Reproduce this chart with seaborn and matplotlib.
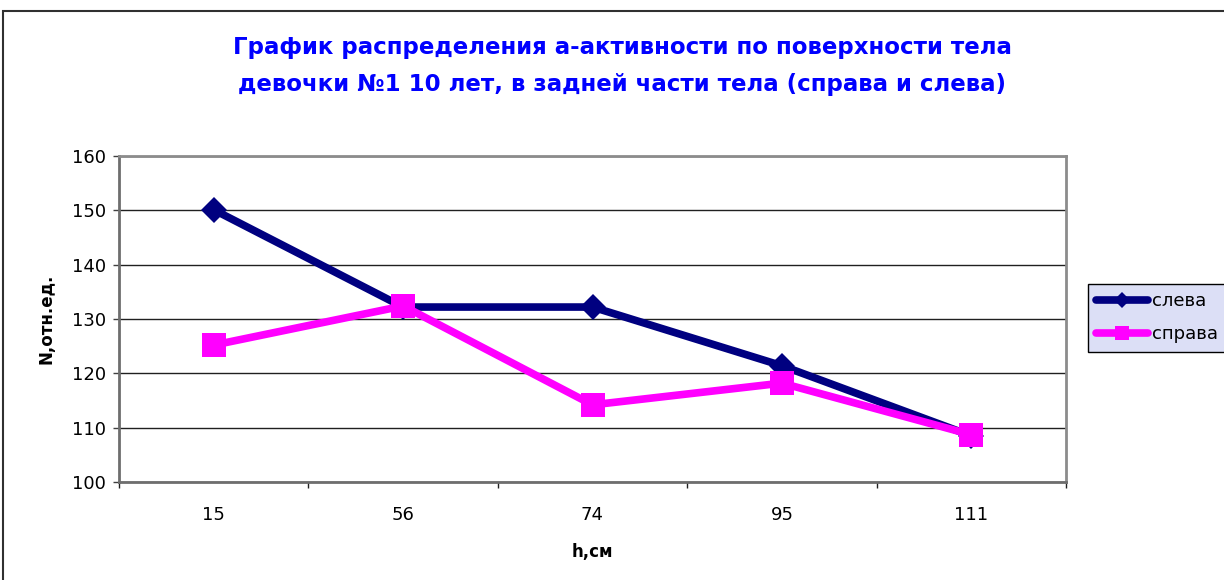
import matplotlib
matplotlib.use("Agg")
import matplotlib.pyplot as plt
import seaborn as sns
import pandas as pd
import numpy as np
from matplotlib.patches import Rectangle

# данные
h_labels = ["15", "56", "74", "95", "111"]
sleva = [150.1, 132.2, 132.2, 121.4, 108.5]
sprava = [125.2, 132.4, 114.2, 118.2, 108.7]
series_names = ["слева", "справа"]
y_ticks = [100, 110, 120, 130, 140, 150, 160]

df = pd.DataFrame({
    "h": h_labels * 2,
    "N": sleva + sprava,
    "side": [series_names[0]] * len(h_labels) + [series_names[1]] * len(h_labels),
})

sns.set_style("white")
plt.rcParams["font.family"] = ["DejaVu Sans"]
plt.rcParams["text.color"] = "black"
plt.rcParams["axes.labelcolor"] = "black"
plt.rcParams["xtick.labelcolor"] = "black"
plt.rcParams["ytick.labelcolor"] = "black"

fig = plt.figure(figsize=(12.24, 5.8), dpi=100)
ax = fig.add_axes([119 / 1224, 98 / 580, 947 / 1224, 326 / 580])

palette = {"слева": "#000080", "справа": "#FF00FF"}
markers = {"слева": "D", "справа": "s"}
sns.lineplot(data=df, x="h", y="N", hue="side", style="side",
             palette=palette, markers=markers, dashes=False, sort=False,
             linewidth=5.5, markersize=17.5, markeredgewidth=0, ax=ax)

# ромб немного меньше квадрата
for line in ax.get_lines():
    if line.get_marker() == "D":
        line.set_markersize(13.5)

ax.set_xlim(-0.5, len(h_labels) - 0.5)
ax.set_ylim(100, 160)
ax.set_yticks(y_ticks)
ax.set_xticks(range(len(h_labels)))
ax.set_xticklabels(h_labels)
ax.set_xticks(np.arange(-0.5, len(h_labels)), minor=True)

ax.grid(axis="y", color="#202020", linewidth=1.0)
ax.set_axisbelow(True)
for side in ["top", "right"]:
    ax.spines[side].set_color("#8c8c8c")
    ax.spines[side].set_linewidth(2.0)
for side in ["left", "bottom"]:
    ax.spines[side].set_color("#6e6e6e")
    ax.spines[side].set_linewidth(2.0)

ax.tick_params(axis="y", which="major", direction="out", length=4.5, width=1,
               color="#404040", pad=5, labelsize=13, left=True)
ax.tick_params(axis="x", which="major", length=0, pad=17, labelsize=13)
ax.tick_params(axis="x", which="minor", direction="out", length=4.5, width=1,
               color="#202020", bottom=True)

ax.set_xlabel("h,см", fontsize=12, fontweight="bold", labelpad=14)
ax.set_ylabel("N,отн.ед.", fontsize=12, fontweight="bold", labelpad=12)

handles, labels = ax.get_legend_handles_labels()
leg = ax.legend(handles, labels, loc="upper left",
                bbox_to_anchor=(1088 / 1224, 1 - 284 / 580),
                bbox_transform=fig.transFigure, fontsize=13, frameon=True,
                fancybox=False, handlelength=2.9, handletextpad=0.2,
                labelspacing=0.85, borderpad=0.45, borderaxespad=0)
leg.get_frame().set_facecolor("#DCDFF6")
leg.get_frame().set_edgecolor("black")
leg.get_frame().set_linewidth(1.0)
leg.get_frame().set_alpha(1)
for hnd in leg.legend_handles:
    hnd.set_linewidth(5.5)
    hnd.set_markersize(8.5 if hnd.get_marker() == "D" else 9.5)

fig.text(622 / 1224, 1 - 36 / 580,
         "График распределения а-активности по поверхности тела\n"
         "девочки №1 10 лет, в задней части тела (справа и слева)",
         ha="center", va="top", color="#0000FF", fontsize=16.5,
         fontweight="bold", linespacing=1.75)

# рамка области диаграммы (обрезана справа и снизу)
fig.patches.append(Rectangle((3 / 1224, -0.1), 1.2, 1 - 11 / 580 + 0.1,
                             transform=fig.transFigure, fill=False,
                             edgecolor="#303030", linewidth=1.5))

fig.savefig("out.png", dpi=100)
